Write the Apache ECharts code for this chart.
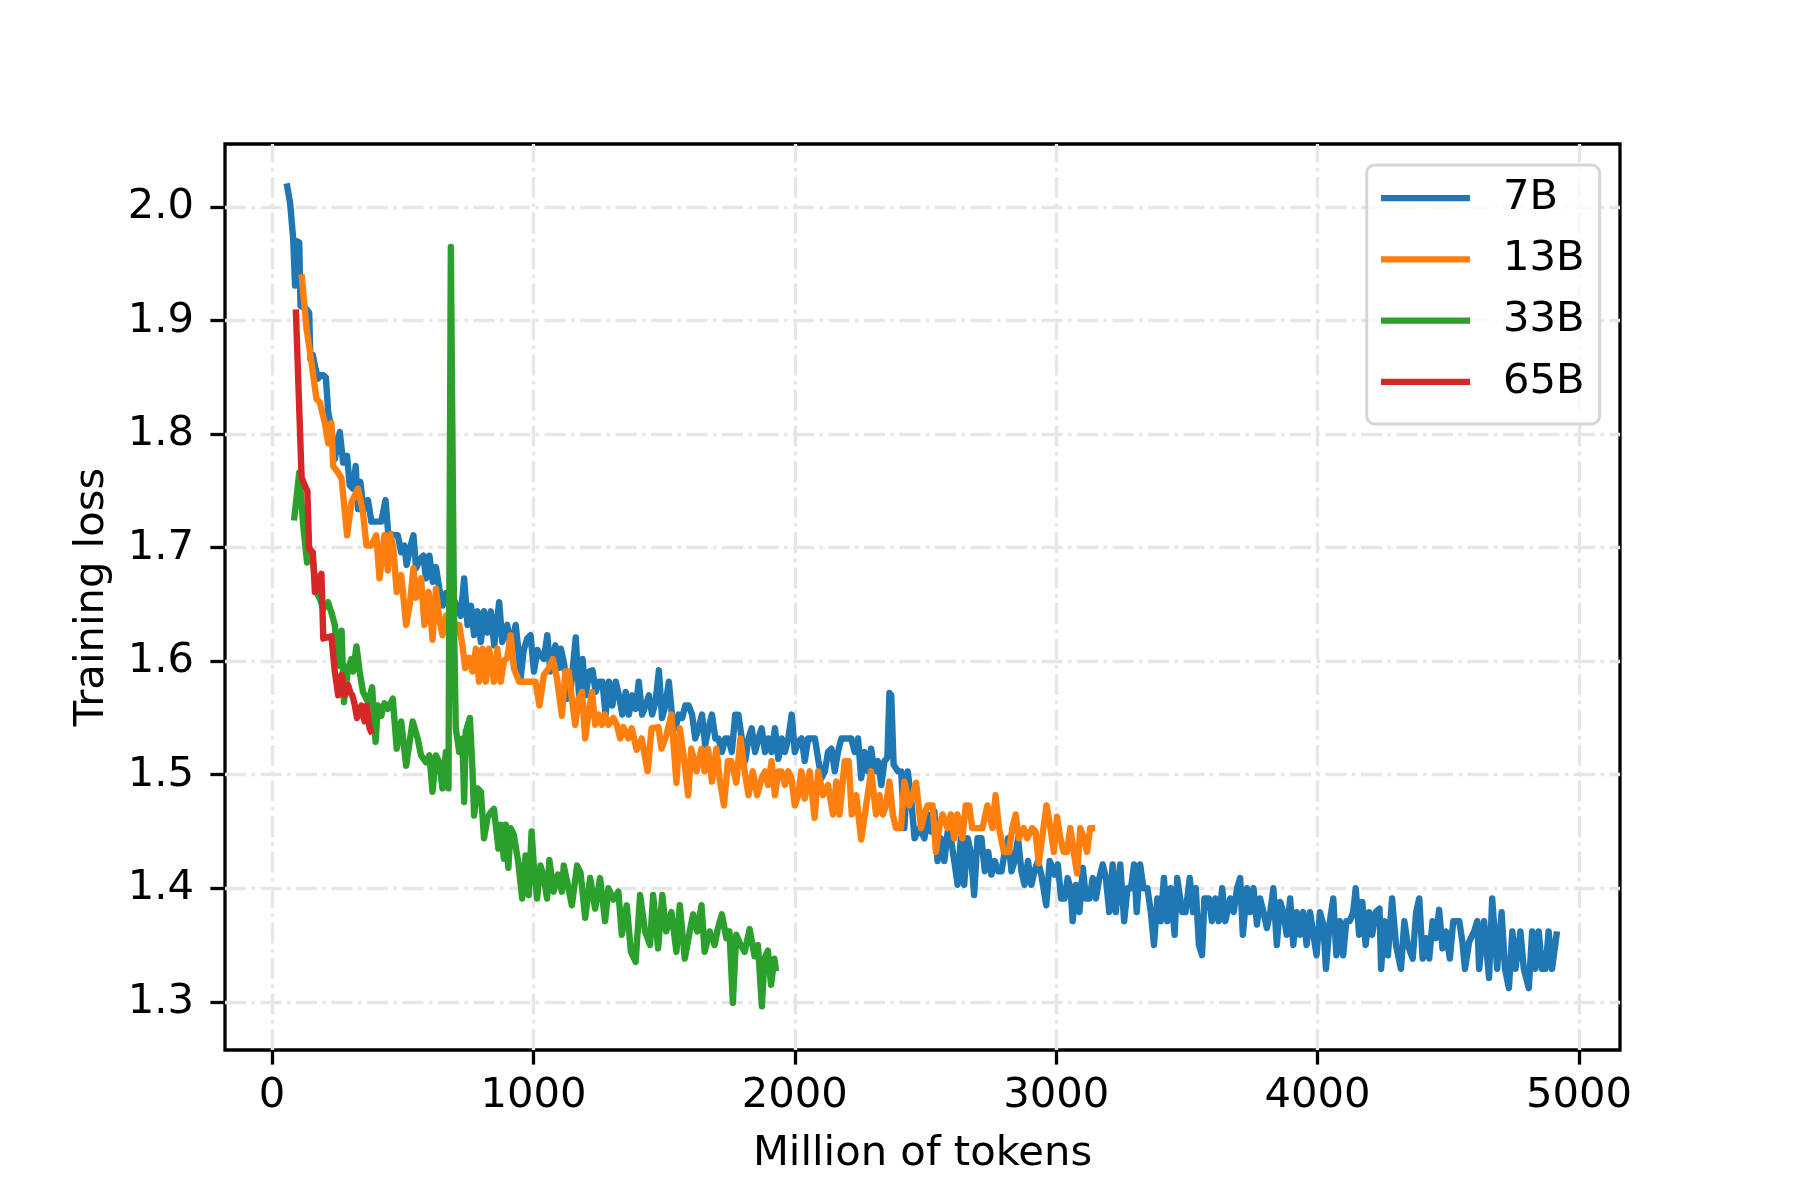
<!DOCTYPE html>
<html><head><meta charset="utf-8">
<script src="https://cdn.jsdelivr.net/npm/echarts@6/dist/echarts.min.js"></script>
<style>html,body{margin:0;padding:0;background:#fff}#c{width:1800px;height:1200px}</style>
</head><body><div id="c"></div>
<script>
// ---- data (x = million of tokens, y = training loss) ----
const xTicks = [0, 1000, 2000, 3000, 4000, 5000];
const yTicks = [1.3, 1.4, 1.5, 1.6, 1.7, 1.8, 1.9, 2.0];
const seriesNames = ['7B', '13B', '33B', '65B'];
const xLabel = 'Million of tokens';
const yLabel = 'Training loss';

const loss7B = [
[56,2.021],[69,2.004],[81,1.972],[88,1.931],[94,1.970],[104,1.969],[109,1.913],[120,1.912],[132,1.910],[142,1.907],[147,1.866],[156,1.870],[164,1.860],[176,1.849],[186,1.852],[196,1.852],[206,1.850],[215,1.819],[227,1.805],[240,1.778],[259,1.802],[272,1.775],[287,1.781],[297,1.755],[310,1.752],[320,1.772],[329,1.734],[338,1.758],[350,1.733],[367,1.742],[380,1.723],[398,1.723],[418,1.723],[434,1.742],[444,1.714],[462,1.711],[481,1.711],[494,1.696],[506,1.702],[515,1.685],[528,1.700],[541,1.711],[551,1.682],[566,1.690],[579,1.693],[589,1.673],[602,1.693],[615,1.670],[627,1.683],[640,1.664],[653,1.649],[666,1.660],[680,1.650],[695,1.655],[710,1.646],[722,1.640],[735,1.673],[748,1.632],[761,1.649],[773,1.623],[786,1.644],[799,1.617],[811,1.644],[824,1.625],[837,1.644],[850,1.614],[869,1.652],[881,1.617],[893,1.630],[900,1.632],[913,1.611],[932,1.632],[940,1.615],[951,1.585],[963,1.610],[976,1.620],[989,1.623],[1002,1.591],[1015,1.610],[1028,1.605],[1040,1.602],[1053,1.623],[1065,1.591],[1084,1.614],[1097,1.594],
[1105,1.611],[1118,1.597],[1130,1.567],[1143,1.576],[1162,1.621],[1175,1.567],[1188,1.602],[1200,1.570],[1213,1.591],[1226,1.592],[1238,1.573],[1251,1.582],[1264,1.582],[1276,1.553],[1289,1.582],[1302,1.561],[1315,1.582],[1327,1.570],[1340,1.553],[1353,1.573],[1365,1.553],[1378,1.570],[1391,1.558],[1403,1.582],[1416,1.553],[1429,1.561],[1442,1.570],[1454,1.553],[1467,1.564],[1480,1.592],[1492,1.550],[1505,1.561],[1518,1.582],[1530,1.553],[1543,1.541],[1556,1.553],[1569,1.550],[1581,1.561],[1594,1.561],[1607,1.553],[1619,1.532],[1632,1.541],[1645,1.553],[1657,1.526],[1670,1.541],[1683,1.553],[1696,1.532],[1708,1.532],[1721,1.520],[1734,1.532],[1746,1.532],[1759,1.520],[1772,1.553],[1784,1.553],[1797,1.532],[1810,1.512],[1823,1.532],[1835,1.541],[1848,1.520],[1861,1.532],[1873,1.541],[1886,1.520],[1899,1.532],[1911,1.520],[1924,1.541],[1937,1.514],[1950,1.532],[1962,1.520],[1975,1.532],[1988,1.553],[2000,1.520],[2013,1.529],[2026,1.532],[2038,1.512],[2051,1.532],[2064,1.532],[2077,1.532],[2089,1.514],[2102,1.497],[2115,1.503],[2127,1.520],[2140,1.523],[2153,1.503],[2165,1.520],[2178,1.532],[2191,1.532],[2204,1.532],[2216,1.532],[2229,1.520],[2242,1.532],[2254,1.497],[2267,1.520],[2280,1.503],[2292,1.523],[2305,1.503],[2318,1.512],[2331,1.491],[2343,1.512],[2354,1.515],[2362,1.572],[2369,1.570],[2378,1.509],[2394,1.503],[2407,1.503],[2419,1.453],[2432,1.503],[2445,1.479],[2458,1.444],[2477,1.453],[2496,1.444],[2508,1.465],[2521,1.450],[2534,1.468],[2546,1.424],[2559,1.444],[2572,1.424],[2585,1.450],[2597,1.444],[2610,1.424],[2623,1.403],[2635,1.444],[2648,1.403],[2661,1.444],[2673,1.432],[2686,1.394],[2699,1.444],
[2714,1.444],[2727,1.415],[2740,1.432],[2752,1.412],[2765,1.424],[2778,1.415],[2791,1.415],[2803,1.432],[2816,1.444],[2829,1.415],[2841,1.424],[2854,1.444],[2867,1.415],[2879,1.403],[2892,1.424],[2905,1.403],[2917,1.415],[2930,1.424],[2943,1.412],[2962,1.385],[2975,1.424],
[2981,1.421],[2994,1.412],[3006,1.421],[3019,1.391],[3032,1.391],[3044,1.409],[3055,1.400],[3063,1.371],[3076,1.403],[3089,1.379],[3102,1.418],[3114,1.391],[3127,1.391],[3140,1.409],[3152,1.391],[3165,1.409],[3178,1.421],[3190,1.409],[3203,1.379],[3216,1.421],[3228,1.379],[3245,1.421],[3260,1.371],[3273,1.400],[3286,1.400],[3298,1.421],[3308,1.379],[3321,1.421],[3334,1.400],[3349,1.400],[3362,1.379],[3374,1.350],[3387,1.391],[3400,1.371],[3412,1.409],[3425,1.371],[3438,1.400],[3453,1.359],[3463,1.409],[3482,1.379],[3495,1.379],[3511,1.409],[3524,1.379],[3534,1.400],[3546,1.350],[3558,1.341],[3567,1.391],[3584,1.391],[3596,1.371],[3609,1.391],[3622,1.371],[3635,1.400],[3647,1.371],[3666,1.391],[3679,1.379],[3692,1.400],[3704,1.409],[3714,1.359],[3730,1.400],[3742,1.379],[3755,1.400],[3768,1.368],[3780,1.391],[3793,1.379],[3806,1.365],[3819,1.379],[3831,1.400],[3844,1.350],[3857,1.388],[3869,1.379],[3882,1.359],[3895,1.391],[3907,1.350],[3920,1.379],[3933,1.359],[3945,1.379],[3958,1.350],[3971,1.379],[3984,1.359],[3996,1.341],[4009,1.379],[4022,1.368],[4032,1.329],[4047,1.371],[4060,1.391],[4072,1.341],[4085,1.371],[4098,1.341],[4110,1.371],[4123,1.371],[4136,1.379],[4146,1.400],[4159,1.359],[4171,1.388],[4184,1.350],[4197,1.379],[4209,1.359],[4222,1.379],
[4237,1.382],[4243,1.329],[4256,1.371],[4269,1.341],[4285,1.391],[4300,1.350],[4319,1.329],[4332,1.371],[4345,1.350],[4364,1.338],[4377,1.379],[4389,1.391],[4402,1.338],[4415,1.356],[4427,1.338],[4440,1.371],[4453,1.356],[4465,1.381],[4478,1.347],[4491,1.362],[4506,1.338],[4519,1.371],[4542,1.371],[4554,1.353],[4564,1.329],[4580,1.353],[4599,1.362],[4611,1.371],[4618,1.329],[4637,1.371],[4656,1.321],[4668,1.391],[4687,1.329],[4704,1.379],[4717,1.329],[4732,1.312],[4745,1.362],[4757,1.329],[4776,1.362],[4789,1.329],[4808,1.312],[4821,1.362],[4833,1.329],[4846,1.362],[4859,1.329],[4872,1.329],[4884,1.362],[4897,1.329],[4916,1.362]
];

const loss13B = [
[113,1.941],[132,1.893],[151,1.863],[170,1.831],[183,1.828],[202,1.810],[215,1.792],[227,1.810],[234,1.772],[253,1.766],[266,1.761],[287,1.711],[304,1.740],[329,1.752],[348,1.731],[361,1.702],[380,1.702],[399,1.711],[411,1.673],[430,1.711],[443,1.680],[452,1.712],[464,1.700],[477,1.661],[494,1.676],[513,1.632],[527,1.650],[541,1.682],[551,1.656],[570,1.673],[583,1.632],[599,1.661],[614,1.619],[627,1.664],[640,1.637],[652,1.623],[665,1.640],[678,1.630],[690,1.645],[703,1.625],[716,1.632],[728,1.614],[739,1.594],[754,1.603],[767,1.591],[780,1.611],[792,1.582],[805,1.611],[818,1.582],[830,1.611],[849,1.582],[862,1.611],[875,1.582],[887,1.600],[900,1.603],[913,1.623],[925,1.594],[945,1.582],[970,1.582],[1008,1.582],[1023,1.561],[1040,1.588],[1059,1.594],[1074,1.602],[1090,1.585],
[1109,1.552],[1122,1.591],[1135,1.591],[1147,1.567],[1160,1.544],[1173,1.567],[1186,1.573],[1198,1.532],[1211,1.555],[1224,1.573],[1236,1.544],[1249,1.553],[1262,1.544],[1274,1.553],[1287,1.544],[1306,1.550],[1319,1.544],[1332,1.532],[1344,1.542],[1363,1.532],[1376,1.541],[1395,1.522],[1414,1.532],[1437,1.503],[1452,1.541],[1478,1.542],[1490,1.523],[1509,1.535],[1528,1.553],[1547,1.493],[1560,1.541],[1579,1.509],[1592,1.482],[1604,1.523],[1624,1.503],[1643,1.523],[1655,1.503],[1668,1.523],[1683,1.494],[1700,1.523],[1712,1.497],[1729,1.473],[1744,1.512],[1757,1.512],[1776,1.493],[1792,1.532],[1808,1.503],[1823,1.482],[1839,1.503],[1856,1.482],
[1873,1.497],[1886,1.503],[1898,1.491],[1911,1.512],[1924,1.482],[1937,1.503],[1949,1.503],[1962,1.491],[1975,1.503],[1987,1.497],[2000,1.473],[2013,1.482],[2025,1.503],[2038,1.479],[2057,1.503],[2076,1.462],[2089,1.503],[2108,1.482],[2127,1.491],[2146,1.465],[2159,1.494],[2171,1.465],[2191,1.512],[2206,1.512],[2218,1.465],[2235,1.482],[2254,1.443],[2273,1.473],[2292,1.503],[2311,1.465],[2324,1.482],[2337,1.465],[2349,1.473],[2362,1.494],[2375,1.465],[2387,1.453],[2406,1.453],[2419,1.494],[2438,1.473],[2451,1.482],[2464,1.493],[2483,1.453],[2495,1.465],[2508,1.473],[2527,1.473],[2540,1.432],[2552,1.453],[2565,1.465],[2584,1.453],[2597,1.465],[2610,1.444],[2622,1.465],[2641,1.444],[2654,1.473],[2667,1.473],[2679,1.453],[2699,1.453],[2718,1.453],[2737,1.473],[2756,1.453],[2768,1.482],[2781,1.453],[2800,1.432],[2819,1.432],[2832,1.453],[2845,1.465],[2857,1.444],[2876,1.453],[2889,1.444],[2908,1.453],[2921,1.450],[2933,1.422],[2946,1.444],[2963,1.473],[2978,1.453],[2991,1.432],[3003,1.463],[3016,1.444],[3029,1.432],[3041,1.432],[3054,1.453],[3067,1.432],[3080,1.413],[3092,1.453],[3105,1.444],[3118,1.432],[3130,1.453],[3149,1.453]
];

const loss33B = [
[84,1.724],[104,1.766],[119,1.720],[134,1.687],[145,1.699],[157,1.687],[170,1.661],[183,1.655],[196,1.646],[214,1.652],[227,1.643],[240,1.632],[253,1.596],[266,1.627],[275,1.564],[291,1.594],[304,1.602],[310,1.591],[323,1.613],[335,1.591],[348,1.573],[367,1.564],[383,1.577],[396,1.529],[405,1.561],[418,1.552],[430,1.563],[443,1.558],[462,1.567],[477,1.523],[494,1.547],[513,1.508],[538,1.547],[557,1.532],[570,1.517],[589,1.511],[602,1.517],[614,1.485],[627,1.517],[640,1.511],[652,1.488],[665,1.520],[675,1.488],[684,1.965],[690,1.800],[697,1.620],[703,1.541],[716,1.520],[728,1.532],[735,1.476],[741,1.538],[757,1.550],[767,1.503],[773,1.464],[786,1.488],[799,1.485],[811,1.444],[824,1.462],[837,1.467],[849,1.470],[866,1.435],[875,1.456],[887,1.426],[894,1.456],[904,1.418],[913,1.453],[925,1.447],[942,1.423],[957,1.391],[970,1.429],[982,1.394],[993,1.450],[1002,1.418],[1014,1.391],[1027,1.420],[1040,1.409],[1052,1.391],[1061,1.425],[1077,1.397],[1094,1.412],[1109,1.397],[1116,1.420],[1129,1.406],[1147,1.385],[1167,1.420],[1180,1.414],[1198,1.374],[1217,1.409],[1236,1.382],[1255,1.409],[1274,1.371],[1287,1.400],[1306,1.390],[1325,1.397],[1338,1.359],[1357,1.385],[1373,1.344],[1391,1.335],[1408,1.394],[1427,1.362],[1446,1.350],[1458,1.394],[1477,1.347],[1493,1.394],[1508,1.362],[1528,1.379],[1547,1.344],[1560,1.385],[1579,1.338],[1598,1.362],[1611,1.377],[1627,1.362],[1643,1.385],[1655,1.344],[1674,1.362],[1693,1.350],[1706,1.365],[1721,1.377],[1738,1.356],[1750,1.362],[1763,1.299],[1776,1.359],[1793,1.350],[1808,1.344],[1827,1.364],[1846,1.340],[1859,1.350],[1874,1.296],[1884,1.338],[1897,1.345],[1909,1.315],[1922,1.338],[1928,1.327]
];

const loss65B = [
[91,1.910],[113,1.762],[125,1.755],[135,1.750],[142,1.699],[156,1.696],[164,1.661],[172,1.666],[180,1.673],[189,1.677],[196,1.620],[210,1.621],[227,1.622],[240,1.591],[253,1.570],[266,1.588],[278,1.570],[291,1.579],[300,1.572],[307,1.570],[316,1.562],[325,1.550],[334,1.556],[342,1.561],[354,1.547],[363,1.561],[373,1.541],[383,1.536]
];

const seriesData = [loss7B, loss13B, loss33B, loss65B];
const colors = ['#1f77b4', '#ff7f0e', '#2ca02c', '#d62728'];

// ---- chart ----
const FONT = 'DejaVu Sans';
const FS = 41.7;
const chart = echarts.init(document.getElementById('c'), null, {renderer: 'canvas'});

const gridLines = xTicks.map(v => ({xAxis: v})).concat(yTicks.map(v => ({yAxis: v})));

const option = {
  animation: false,
  backgroundColor: '#ffffff',
  color: colors,
  grid: {left: 225, right: 180, top: 144, bottom: 150, show: true, z: 0,
         borderColor: '#000', borderWidth: 3.3, backgroundColor: 'transparent'},
  xAxis: {
    type: 'value', min: -180, max: 5157,
    name: xLabel, nameLocation: 'middle', nameGap: 83,
    nameTextStyle: {fontFamily: FONT, fontSize: FS, color: '#000'},
    axisLine: {show: false, onZero: false}, splitLine: {show: false},
    axisTick: {show: true, inside: false, length: 14.6, customValues: xTicks,
               lineStyle: {color: '#000', width: 3.3}},
    axisLabel: {customValues: xTicks, margin: 25, fontFamily: FONT, fontSize: FS, color: '#000',
                formatter: v => String(v)}
  },
  yAxis: {
    type: 'value', min: 1.2575, max: 2.0557,
    name: yLabel, nameLocation: 'middle', nameGap: 111.5, nameRotate: 90,
    nameTextStyle: {fontFamily: FONT, fontSize: FS, color: '#000'},
    axisLine: {show: false, onZero: false}, splitLine: {show: false},
    axisTick: {show: true, inside: false, length: 14.6, customValues: yTicks,
               lineStyle: {color: '#000', width: 3.3}},
    axisLabel: {customValues: yTicks, margin: 31, fontFamily: FONT, fontSize: FS, color: '#000',
                padding: [3, 0, 0, 0],
                formatter: v => Number(v).toFixed(1)}
  },
  legend: {
    orient: 'vertical', left: 1366.7, top: 165, z: 10,
    data: seriesNames, icon: 'rect', itemWidth: 89, itemHeight: 6.25, itemGap: 19.3,
    padding: [12, 15, 21, 14.3],
    backgroundColor: 'rgba(255,255,255,0.8)', borderColor: '#d6d6d6', borderWidth: 3, borderRadius: 8,
    textStyle: {fontFamily: FONT, fontSize: FS, color: '#000', padding: [4.6, 0, 0, 28]}
  },
  series: [
    {type: 'line', name: '_grid', data: [], z: 1, silent: true,
     markLine: {silent: true, z: 1, symbol: ['none', 'none'], label: {show: false}, animation: false,
                lineStyle: {color: '#e6e6e6', width: 3.3, type: [21, 5.5, 3.5, 5.5]},
                emphasis: {disabled: true},
                data: gridLines}}
  ].concat(seriesData.map((d, i) => ({
    type: 'line', name: seriesNames[i], data: d, showSymbol: false, symbol: 'none', z: 3,
    lineStyle: {color: colors[i], width: 6.4, join: 'round', cap: 'butt'},
    itemStyle: {color: colors[i]},
    emphasis: {disabled: true}
  })))
};
chart.setOption(option);
</script>
</body></html>
